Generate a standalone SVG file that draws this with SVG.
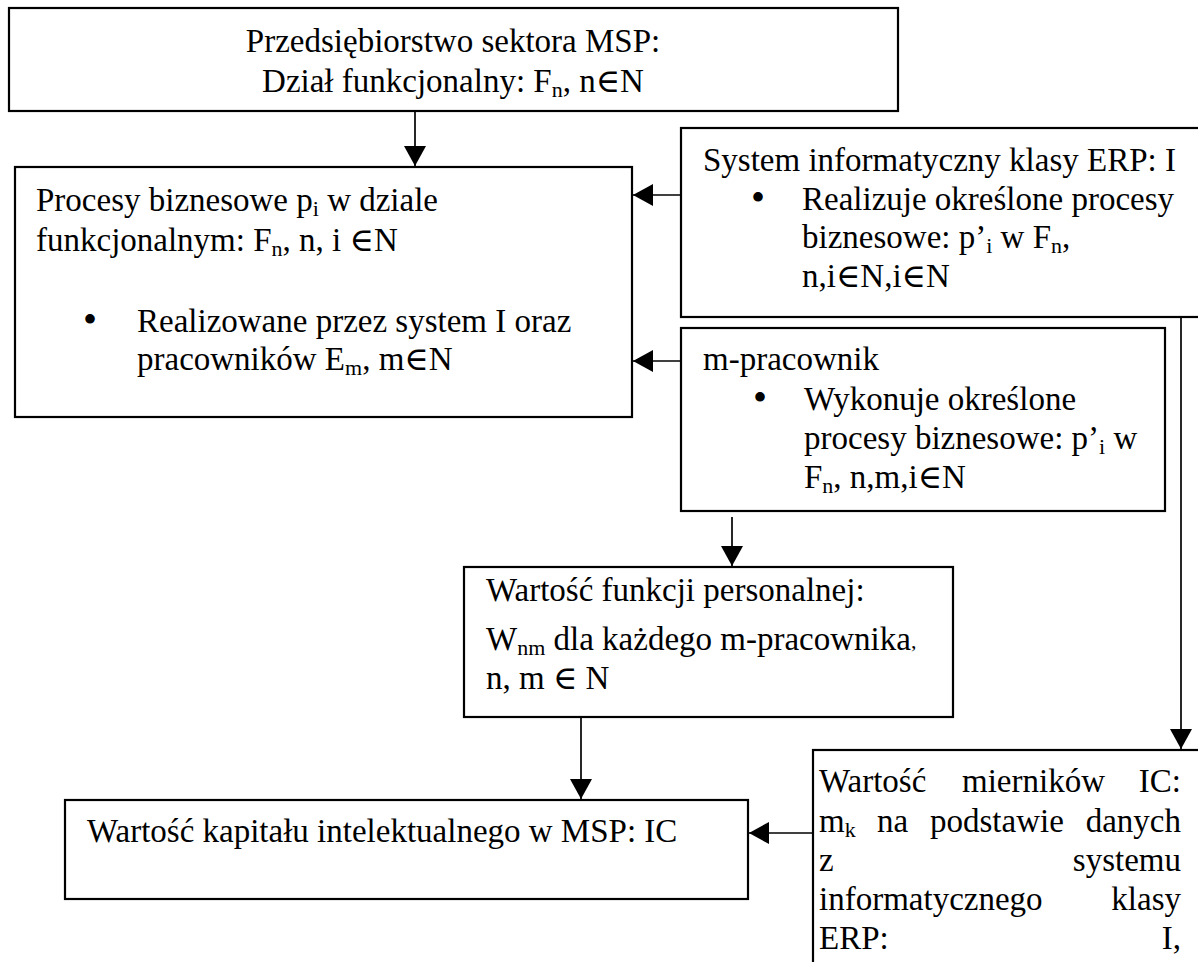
<svg xmlns="http://www.w3.org/2000/svg" width="1198" height="962" viewBox="0 0 1198 962">
<style>
  .box{fill:#fff;stroke:#000;stroke-width:2.2}
  .t{font-family:"Liberation Serif","Times New Roman","DejaVu Serif",serif;font-size:33px;fill:#000}
  .sub{font-size:22px}
  .bul{font-family:"Liberation Serif","Times New Roman","DejaVu Serif",serif;font-size:40px;fill:#000}
  .c{stroke:#000;stroke-width:1.7;fill:none}
</style>
<defs>
  <marker id="ah" markerUnits="userSpaceOnUse" markerWidth="20" markerHeight="22" refX="20" refY="11" orient="auto">
    <path d="M0,0 L20,11 L0,22 z" fill="#000"/>
  </marker>
</defs>
<rect width="1198" height="962" fill="#fff"/>

<g id="connectors">
  <line class="c" x1="415" y1="111" x2="415" y2="166" marker-end="url(#ah)"/>
  <line class="c" x1="681" y1="195" x2="633" y2="195" marker-end="url(#ah)"/>
  <line class="c" x1="681" y1="361" x2="633" y2="361" marker-end="url(#ah)"/>
  <line class="c" x1="732" y1="517" x2="732" y2="566" marker-end="url(#ah)"/>
  <line class="c" x1="581" y1="717" x2="581" y2="799" marker-end="url(#ah)"/>
  <line class="c" x1="1181" y1="317" x2="1181" y2="749" marker-end="url(#ah)"/>
  <line class="c" x1="813" y1="833" x2="749" y2="833" marker-end="url(#ah)"/>
</g>

<g id="node-przedsiebiorstwo">
  <rect class="box" x="9" y="8" width="889" height="103"/>
  <text class="t" x="453" y="52" text-anchor="middle">Przedsiębiorstwo sektora MSP:</text>
  <text class="t" x="453" y="92" text-anchor="middle">Dział funkcjonalny: F<tspan class="sub" dy="5">n</tspan><tspan dy="-5">, n∈N</tspan></text>
</g>

<g id="node-procesy">
  <rect class="box" x="15" y="167" width="617" height="250"/>
  <text class="t" x="36" y="211">Procesy biznesowe p<tspan class="sub" dy="5">i</tspan><tspan dy="-5"> w dziale</tspan></text>
  <text class="t" x="36" y="251">funkcjonalnym: F<tspan class="sub" dy="5">n</tspan><tspan dy="-5">, n, i ∈N</tspan></text>
  <text class="bul" x="83" y="333">•</text>
  <text class="t" x="137" y="332">Realizowane przez system I oraz</text>
  <text class="t" x="137" y="370">pracowników E<tspan class="sub" dy="5">m</tspan><tspan dy="-5">, m∈N</tspan></text>
</g>

<g id="node-system">
  <rect class="box" x="681" y="128" width="530" height="189"/>
  <text class="t" x="703" y="171">System informatyczny klasy ERP: I</text>
  <text class="bul" x="751" y="211">•</text>
  <text class="t" x="802" y="210">Realizuje określone procesy</text>
  <text class="t" x="802" y="248">biznesowe: p’<tspan class="sub" dy="5">i</tspan><tspan dy="-5"> w F</tspan><tspan class="sub" dy="5">n</tspan><tspan dy="-5">,</tspan></text>
  <text class="t" x="802" y="287">n,i∈N,i∈N</text>
</g>

<g id="node-pracownik">
  <rect class="box" x="681" y="328" width="484" height="183"/>
  <text class="t" x="703" y="370">m-pracownik</text>
  <text class="bul" x="753" y="411">•</text>
  <text class="t" x="804" y="410">Wykonuje określone</text>
  <text class="t" x="804" y="449">procesy biznesowe: p’<tspan class="sub" dy="5">i</tspan><tspan dy="-5"> w</tspan></text>
  <text class="t" x="804" y="488">F<tspan class="sub" dy="5">n</tspan><tspan dy="-5">, n,m,i∈N</tspan></text>
</g>

<g id="node-funkcja">
  <rect class="box" x="464" y="567" width="489" height="150"/>
  <text class="t" x="486" y="601">Wartość funkcji personalnej:</text>
  <text class="t" x="486" y="650">W<tspan class="sub" dy="5">nm</tspan><tspan dy="-5"> dla każdego m-pracownika</tspan><tspan class="sub" dy="-2">,</tspan></text>
  <text class="t" x="486" y="689">n, m ∈ N</text>
</g>

<g id="node-ic">
  <rect class="box" x="65" y="800" width="683" height="99"/>
  <text class="t" x="87" y="842">Wartość kapitału intelektualnego w MSP: IC</text>
</g>

<g id="node-mierniki">
  <rect class="box" x="813" y="750" width="400" height="230"/>
  <text class="t" y="792"><tspan x="819">Wartość</tspan><tspan x="962">mierników</tspan><tspan x="1181" text-anchor="end">IC:</tspan></text>
  <text class="t" y="832"><tspan x="819">m</tspan><tspan class="sub" dy="5">k</tspan><tspan x="877" dy="-5">na</tspan><tspan x="930">podstawie</tspan><tspan x="1181" text-anchor="end">danych</tspan></text>
  <text class="t" y="871"><tspan x="819">z</tspan><tspan x="1181" text-anchor="end">systemu</tspan></text>
  <text class="t" y="910"><tspan x="819">informatycznego</tspan><tspan x="1181" text-anchor="end">klasy</tspan></text>
  <text class="t" y="949"><tspan x="819">ERP:</tspan><tspan x="1181" text-anchor="end">I,</tspan></text>
</g>
</svg>
